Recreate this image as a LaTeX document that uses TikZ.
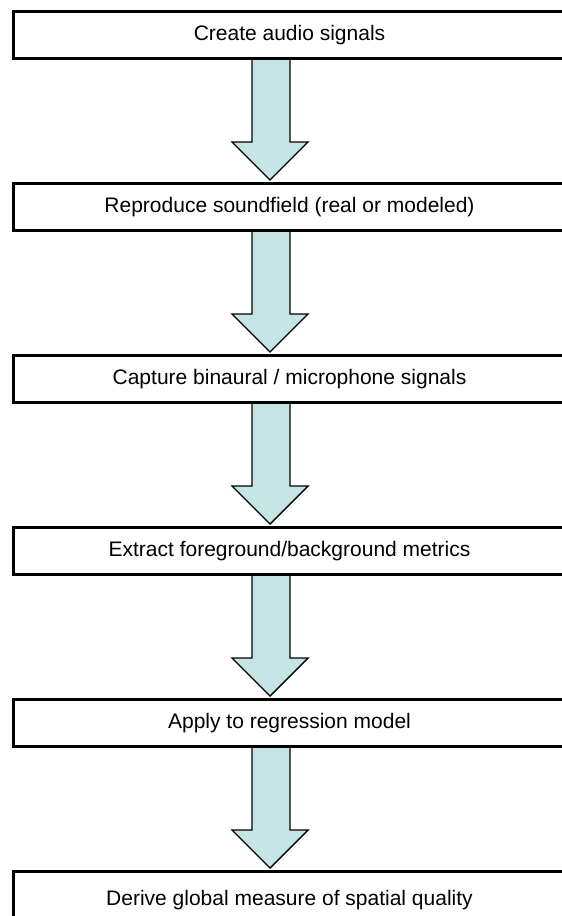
\documentclass[tikz,border=0pt]{standalone}
\usepackage{fontspec}
\setmainfont{Liberation Sans}
\usetikzlibrary{backgrounds,calc}
\definecolor{arrowfill}{RGB}{197,228,230}
\tikzset{
  stepbox/.style={draw=black, line width=3pt, fill=white, minimum width=552pt, minimum height=47pt, inner sep=0pt, font=\fontsize{21}{25}\selectfont, anchor=north west},
  flowarrow/.style={draw=black, line width=1.4pt, fill=arrowfill, line join=miter}
}
\newcommand{\flowdown}[2]{%
  \begin{pgfonlayer}{background}
  \draw[flowarrow] (252,0 |- #1.south) -- ($(252,0 |- #2.north)+(0,-40)$) -- ($(232,0 |- #2.north)+(0,-40)$) -- ($(270,0 |- #2.north)+(0,-2)$) -- ($(308,0 |- #2.north)+(0,-40)$) -- ($(290,0 |- #2.north)+(0,-40)$) -- (290,0 |- #1.south);
  \end{pgfonlayer}}
\begin{document}
\begin{tikzpicture}[x=1pt,y=-1pt]
\useasboundingbox (0,0) rectangle (562,916);
\begin{pgfonlayer}{background}
\fill[white] (0,0) rectangle (562,916);
\end{pgfonlayer}
\begin{scope}
\clip (0,0) rectangle (562,916);
\node[stepbox] (b1) at (12,10) {Create audio signals};
\node[stepbox] (b2) at (12,182) {Reproduce soundfield (real or modeled)};
\node[stepbox] (b3) at (12,354) {Capture binaural / microphone signals};
\node[stepbox] (b4) at (12,526) {Extract foreground/background metrics};
\node[stepbox] (b5) at (12,698) {Apply to regression model};
\node[stepbox, minimum height=70pt, text depth=18pt] (b6) at (12,870) {Derive global measure of spatial quality};
\end{scope}
\flowdown{b1}{b2}
\flowdown{b2}{b3}
\flowdown{b3}{b4}
\flowdown{b4}{b5}
\flowdown{b5}{b6}
\end{tikzpicture}
\end{document}
